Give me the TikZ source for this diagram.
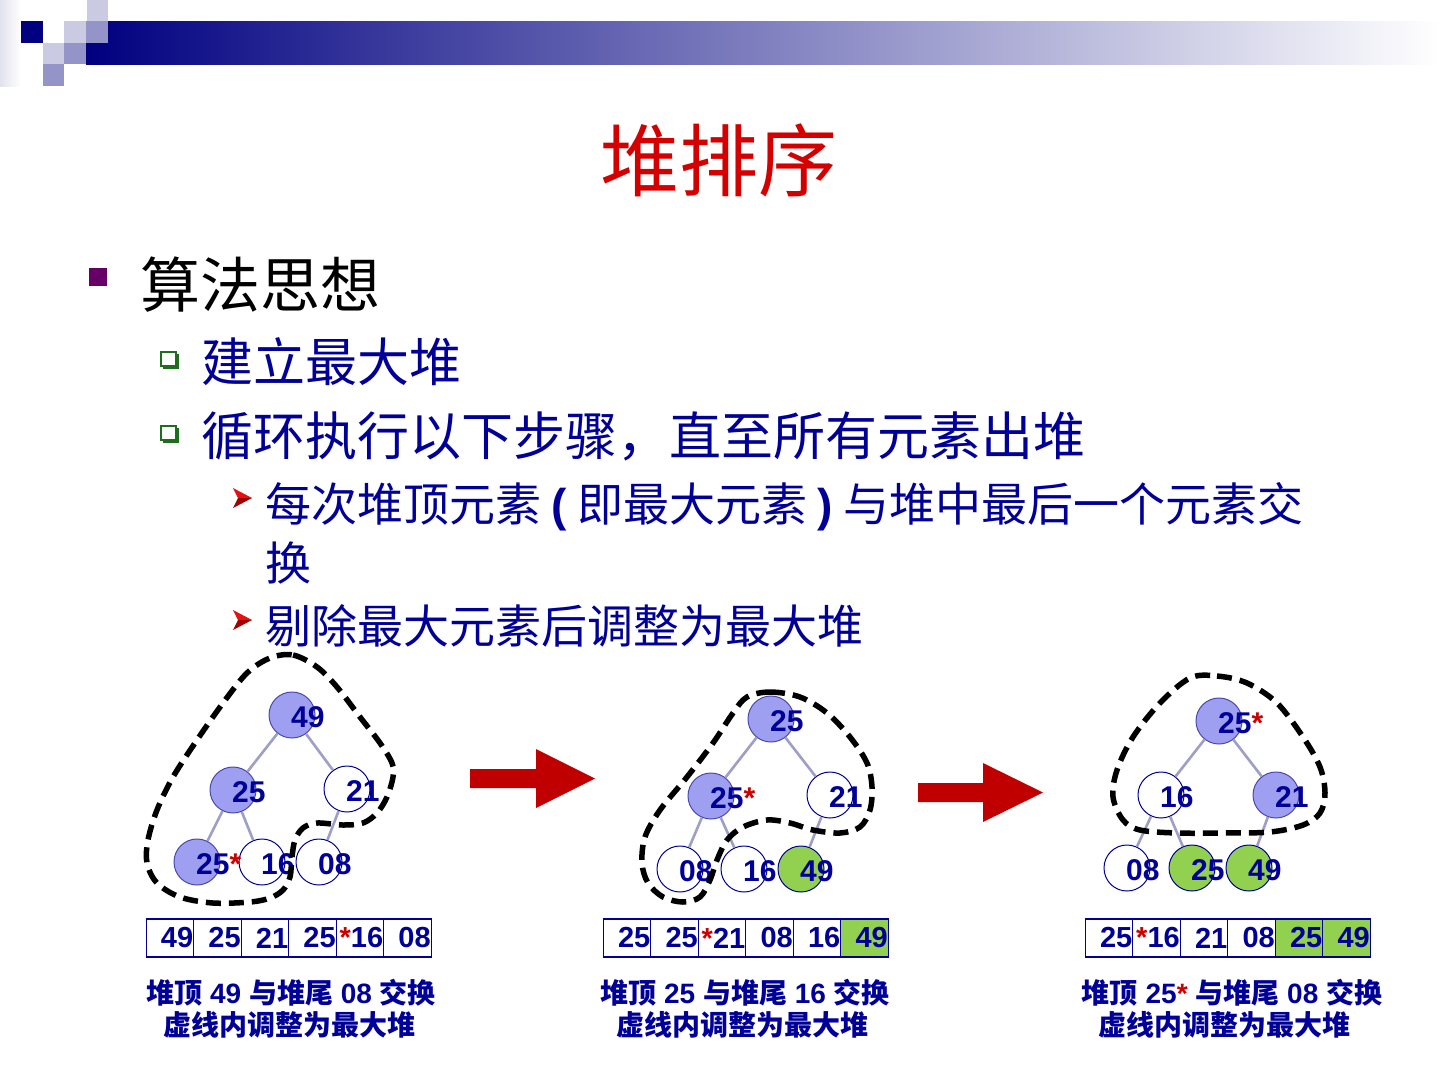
\documentclass[tikz,border=0pt]{standalone}
\usepackage{fontspec}
\setmainfont{Liberation Sans}
\newfontfamily\cjk{Noto Sans CJK SC}
\usetikzlibrary{positioning}
\definecolor{headnavy}{HTML}{000080}
\definecolor{headlight}{HTML}{CACAE2}
\definecolor{headmid}{HTML}{9494C8}
\definecolor{headpale}{HTML}{E2E2EE}
\definecolor{titlered}{HTML}{D40000}
\definecolor{navytext}{HTML}{000099}
\definecolor{bulletpurple}{HTML}{660066}
\definecolor{bulletgreen}{HTML}{1E6E1E}
\definecolor{bulletred}{HTML}{E81010}
\definecolor{bulletdark}{HTML}{A00000}
\definecolor{arrowred}{HTML}{C00000}
\definecolor{starred}{HTML}{CC0000}
\definecolor{heapfill}{HTML}{9F9FF2}
\definecolor{heapline}{HTML}{4848B0}
\definecolor{donegreen}{HTML}{92D050}
\definecolor{linkgray}{HTML}{9E9EC6}
\tikzset{
  % ---- slide text ------------------------------------------------
  titletext/.style = {font=\cjk\fontsize{79}{90}\selectfont, text=titlered,
                      anchor=base, inner sep=0pt},
  lvlone/.style    = {font=\cjk\fontsize{60}{70}\selectfont, text=black,
                      anchor=base west, inner sep=0pt},
  lvltwo/.style    = {font=\cjk\fontsize{52}{62}\selectfont, text=navytext,
                      anchor=base west, inner sep=0pt},
  lvlthree/.style  = {font=\cjk\fontsize{46}{56}\selectfont, text=navytext,
                      anchor=base west, inner sep=0pt},
  % ---- heap trees ------------------------------------------------
  hnode/.style     = {circle, draw=navytext, line width=1pt,
                      minimum size=46pt, inner sep=0pt},
  hot/.style       = {hnode, draw=heapline, fill=heapfill},
  plain/.style     = {hnode, fill=white},
  done/.style      = {hnode, fill=donegreen},
  keytext/.style   = {font=\bfseries\fontsize{30}{36}\selectfont,
                      text=navytext, inner sep=0pt, yshift=-2pt},
  link/.style      = {draw=linkgray, line width=2.6pt},
  fence/.style     = {draw=black, line width=5.5pt,
                      dash pattern=on 15pt off 8pt},
  % ---- arrays and captions ---------------------------------------
  cell/.style      = {draw=navytext, line width=1.4pt, minimum width=47.5pt,
                      minimum height=38pt, inner sep=0pt, text width=46.5pt,
                      align=right, font=\bfseries\fontsize{29}{34}\selectfont,
                      text=navytext},
  sorted/.style    = {cell, fill=donegreen},
  capline/.style   = {font=\bfseries\fontsize{28}{34}\selectfont,
                      text=navytext, anchor=base, inner sep=0pt},
}
\newcommand{\redstar}{{\color{starred}*}}

\begin{document}
\begin{tikzpicture}[x=1pt,y=-1pt]
  \fill[white] (0,0) rectangle (1440,1080);
  % header band
  \shade[left color=headpale, right color=white] (0,0) rectangle (21,86);
  \shade[left color=headnavy, right color=white] (86,21) rectangle (1440,64);
  \fill[headlight] (87,0) rectangle (108,21);
  \fill[headnavy] (21,21) rectangle (43,43);
  \fill[headlight] (64,21) rectangle (86,43);
  \fill[headmid] (86,21) rectangle (108,43);
  \fill[headlight] (43,43) rectangle (64,64);
  \fill[headmid] (64,43) rectangle (86,64);
  \fill[headmid] (43,64) rectangle (64,86);

  \node[titletext] (title) at (719,190) {堆排序};

  % bullets
  \fill[bulletpurple] (89,268) rectangle (107,286);
  \node[lvlone] (idea) at (140,307) {算法思想};
  \fill[bulletgreen] (163,354) rectangle (179,369);
  \filldraw[fill=white, draw=bulletgreen, line width=1.3pt] (161,352) rectangle (176,366);
  \node[lvltwo] (build) at (201,381) {建立最大堆};
  \fill[bulletgreen] (163,428) rectangle (179,443);
  \filldraw[fill=white, draw=bulletgreen, line width=1.3pt] (161,426) rectangle (176,440);
  \node[lvltwo] (loop) at (201,455) {循环执行以下步骤，直至所有元素出堆};
  \fill[bulletred] (233,488) -- (252,498) -- (238,498) -- cycle;
  \fill[bulletdark] (238,498) -- (252,498) -- (233,508) -- cycle;
  \node[lvlthree] (swap) at (265,521)
    {每次堆顶元素 {\rmfamily\bfseries (} 即最大元素 {\rmfamily\bfseries )} 与堆中最后一个元素交};
  \node[lvlthree] (swapb) at (265,580) {换};
  \fill[bulletred] (233,610) -- (252,620) -- (238,620) -- cycle;
  \fill[bulletdark] (238,620) -- (252,620) -- (233,630) -- cycle;
  \node[lvlthree] (drop) at (265,643) {剔除最大元素后调整为最大堆};

  % ---- heap 1 ----------------------------------------------------
  \node[hot]   (p49)  at (292,715) {};
  \node[hot]   (p25)  at (233,790) {};
  \node[plain] (p21)  at (347,789) {};
  \node[hot]   (p25s) at (197,862) {};
  \node[plain] (p16)  at (262,862) {};
  \node[plain] (p08)  at (319,862) {};
  \draw[link] (p49) -- (p25);
  \draw[link] (p49) -- (p21);
  \draw[link] (p25) -- (p25s);
  \draw[link] (p25) -- (p16);
  \draw[link] (p21) -- (p08);
  \node[keytext, right=-1pt of p49.center]  (p49k)  {49};
  \node[keytext, right=-1pt of p25.center]  (p25k)  {25};
  \node[keytext, right=-1pt of p21.center]  (p21k)  {21};
  \node[keytext, right=-1pt of p25s.center] (p25sk) {25\redstar};
  \node[keytext, right=-1pt of p16.center]  (p16k)  {16};
  \node[keytext, right=-1pt of p08.center]  (p08k)  {08};
  \draw[fence] plot[smooth cycle, tension=0.55] coordinates {
    (270,658) (293,655) (317,667) (337,687) (360,717) (380,743) (392,763)
    (393,777) (387,797) (377,813) (363,823) (343,825) (317,823) (303,828)
    (295,840) (292,857) (290,877) (283,890) (270,898) (250,902) (213,903)
    (180,897) (157,883) (147,863) (148,840) (157,810) (173,777) (197,740)
    (223,703) (247,673)};

  % ---- heap 2 ----------------------------------------------------
  \node[hot]   (q25)  at (771,719) {};
  \node[hot]   (q25s) at (711,796) {};
  \node[plain] (q21)  at (830,795) {};
  \node[plain] (q08)  at (680,869) {};
  \node[plain] (q16)  at (744,869) {};
  \node[done]  (q49)  at (801,869) {};
  \draw[link] (q25) -- (q25s);
  \draw[link] (q25) -- (q21);
  \draw[link] (q25s) -- (q08);
  \draw[link] (q25s) -- (q16);
  \draw[link] (q21) -- (q49);
  \node[keytext, right=-1pt of q25.center]  (q25k)  {25};
  \node[keytext, right=-1pt of q25s.center] (q25sk) {25\redstar};
  \node[keytext, right=-1pt of q21.center]  (q21k)  {21};
  \node[keytext, right=-1pt of q08.center]  (q08k)  {08};
  \node[keytext, right=-1pt of q16.center]  (q16k)  {16};
  \node[keytext, right=-1pt of q49.center]  (q49k)  {49};
  \draw[fence] plot[smooth cycle, tension=0.55] coordinates {
    (747,697) (770,692) (800,697) (827,713) (850,737) (867,763) (872,787)
    (870,810) (860,827) (840,833) (813,830) (790,823) (767,820) (743,827)
    (727,840) (717,860) (710,880) (700,897) (683,902) (663,897) (648,883)
    (642,863) (645,837) (660,810) (687,777) (713,743) (733,713)};

  % ---- heap 3 ----------------------------------------------------
  \node[hot]   (r25s) at (1219,721) {};
  \node[plain] (r16)  at (1161,795) {};
  \node[hot]   (r21)  at (1276,795) {};
  \node[plain] (r08)  at (1127,868) {};
  \node[done]  (r25)  at (1192,868) {};
  \node[done]  (r49)  at (1249,868) {};
  \draw[link] (r25s) -- (r16);
  \draw[link] (r25s) -- (r21);
  \draw[link] (r16) -- (r08);
  \draw[link] (r16) -- (r25);
  \draw[link] (r21) -- (r49);
  \node[keytext, right=-1pt of r25s.center] (r25sk) {25\redstar};
  \node[keytext, right=-1pt of r16.center]  (r16k)  {16};
  \node[keytext, right=-1pt of r21.center]  (r21k)  {21};
  \node[keytext, right=-1pt of r08.center]  (r08k)  {08};
  \node[keytext, right=-1pt of r25.center]  (r25k)  {25};
  \node[keytext, right=-1pt of r49.center]  (r49k)  {49};
  \draw[fence] plot[smooth cycle, tension=0.55] coordinates {
    (1190,678) (1217,676) (1247,683) (1277,703) (1303,737) (1320,767)
    (1325,793) (1320,813) (1303,825) (1270,832) (1223,833) (1177,833)
    (1140,830) (1123,820) (1113,797) (1117,770) (1133,737) (1160,703)};

  % red arrows between the stages
  \fill[arrowred] (470,769) -- (536,769) -- (536,749) -- (595,778.5)
    -- (536,808) -- (536,788) -- (470,788) -- cycle;
  \fill[arrowred] (918,783) -- (983,783) -- (983,763) -- (1043,792.5)
    -- (983,822) -- (983,802) -- (918,802) -- cycle;

  % ---- arrays ----------------------------------------------------
  \node[cell] (a1) at (170,938) {49};
  \node[cell, right=-1.4pt of a1] (a2) {25};
  \node[cell, right=-1.4pt of a2] (a3) {21};
  \node[cell, right=-1.4pt of a3] (a4) {25};
  \node[cell, right=-1.4pt of a4] (a5) {\redstar16};
  \node[cell, right=-1.4pt of a5] (a6) {08};
  \node[capline] (cap1a) at (291,1003) {{\cjk 堆顶} 49 {\cjk 与堆尾} 08 {\cjk 交换}};
  \node[capline] (cap1b) at (289,1035) {\cjk 虚线内调整为最大堆};

  \node[cell] (b1) at (627,938) {25};
  \node[cell, right=-1.4pt of b1] (b2) {25};
  \node[cell, right=-1.4pt of b2] (b3) {\redstar21};
  \node[cell, right=-1.4pt of b3] (b4) {08};
  \node[cell, right=-1.4pt of b4] (b5) {16};
  \node[sorted, right=-1.4pt of b5] (b6) {49};
  \node[capline] (cap2a) at (745,1003) {{\cjk 堆顶} 25 {\cjk 与堆尾} 16 {\cjk 交换}};
  \node[capline] (cap2b) at (742,1035) {\cjk 虚线内调整为最大堆};

  \node[cell] (c1) at (1109,938) {25};
  \node[cell, right=-1.4pt of c1] (c2) {\redstar16};
  \node[cell, right=-1.4pt of c2] (c3) {21};
  \node[cell, right=-1.4pt of c3] (c4) {08};
  \node[sorted, right=-1.4pt of c4] (c5) {25};
  \node[sorted, right=-1.4pt of c5] (c6) {49};
  \node[capline] (cap3a) at (1232,1003) {{\cjk 堆顶} 25\redstar{} {\cjk 与堆尾} 08 {\cjk 交换}};
  \node[capline] (cap3b) at (1224,1035) {\cjk 虚线内调整为最大堆};
\end{tikzpicture}
\end{document}
